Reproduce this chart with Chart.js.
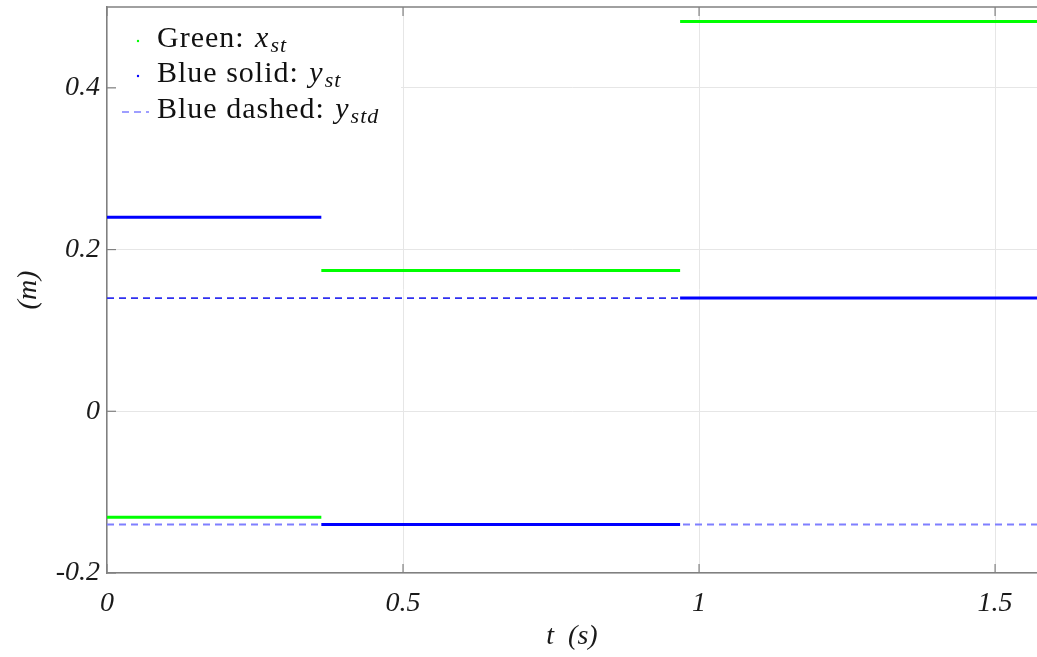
<!DOCTYPE html>
<html>
<head>
<meta charset="utf-8">
<script src="https://cdn.jsdelivr.net/npm/chart.js@4/dist/chart.umd.min.js"></script>
<style>
html,body{margin:0;padding:0;background:#fff;}
#wrap{width:1037px;height:657px;position:relative;}
</style>
</head>
<body>
<div id="wrap"><canvas id="c" width="1037" height="657"></canvas></div>
<script>
// ---- data ----
const segStart = [0, 0.362, 0.968];
const segEnd   = [0.362, 0.968, 1.5708];
const greenXst = [-0.131, 0.174, 0.482];
const blueYst  = [0.24, -0.14, 0.14];
const blueYstdUpper = 0.14;
const blueYstdLower = -0.14;
const xTicks = [0, 0.5, 1, 1.5];
const xTickLabels = ['0', '0.5', '1', '1.5'];
const yTicks = [-0.2, 0, 0.2, 0.4];
const yTickLabels = ['-0.2', '0', '0.2', '0.4'];
const xMin = 0, xMax = 1.5708, yMin = -0.2, yMax = 0.5;

function steps(vals) {
  const pts = [];
  vals.forEach((v, i) => {
    pts.push({x: segStart[i], y: v});
    pts.push({x: segEnd[i], y: v});
    if (i < vals.length - 1) pts.push({x: segEnd[i], y: null});
  });
  return pts;
}

const FONT = "'Liberation Serif', 'DejaVu Serif', serif";
const AXC = '#808080';

const framePlugin = {
  id: 'frame',
  afterDraw(chart) {
    const {ctx, chartArea: a, scales} = chart;
    ctx.save();
    // top border
    ctx.strokeStyle = AXC; ctx.lineWidth = 1.5;
    ctx.beginPath(); ctx.moveTo(a.left, a.top); ctx.lineTo(a.right, a.top); ctx.stroke();
    // inward ticks
    ctx.lineWidth = 1.2;
    xTicks.forEach(v => {
      const px = scales.x.getPixelForValue(v);
      ctx.beginPath(); ctx.moveTo(px, a.bottom); ctx.lineTo(px, a.bottom - 9); ctx.stroke();
      ctx.beginPath(); ctx.moveTo(px, a.top); ctx.lineTo(px, a.top + 9); ctx.stroke();
    });
    yTicks.forEach(v => {
      const py = scales.y.getPixelForValue(v);
      ctx.beginPath(); ctx.moveTo(a.left, py); ctx.lineTo(a.left + 9, py); ctx.stroke();
    });
    // legend
    ctx.fillStyle = '#fff';
    ctx.fillRect(a.left + 9, a.top + 2, 285, 128);
    const tx = a.left + 50;
    const rows = [
      {y: a.top + 32, main: 'Green: ', v: 'x', sub: 'st', kind: 'dotG'},
      {y: a.top + 67, main: 'Blue solid: ', v: 'y', sub: 'st', kind: 'dotB'},
      {y: a.top + 103, main: 'Blue dashed: ', v: 'y', sub: 'std', kind: 'dash'}
    ];
    ctx.textBaseline = 'middle';
    rows.forEach(r => {
      if (r.kind === 'dotG' || r.kind === 'dotB') {
        ctx.fillStyle = r.kind === 'dotG' ? '#00ff00' : '#0000ff';
        ctx.beginPath(); ctx.arc(a.left + 31, r.y + 2, 1.2, 0, Math.PI * 2); ctx.fill();
      } else {
        ctx.strokeStyle = '#7f7fff'; ctx.lineWidth = 1.6; ctx.setLineDash([7, 5]);
        ctx.beginPath(); ctx.moveTo(a.left + 15, r.y + 2); ctx.lineTo(a.left + 42, r.y + 2); ctx.stroke();
        ctx.setLineDash([]);
      }
      ctx.fillStyle = '#111';
      ctx.letterSpacing = '1px';
      ctx.font = '30px ' + FONT;
      ctx.fillText(r.main, tx, r.y);
      let x = tx + ctx.measureText(r.main).width + 2;
      ctx.font = 'italic 30px ' + FONT;
      ctx.fillText(r.v, x, r.y);
      x += ctx.measureText(r.v).width + 1;
      ctx.font = 'italic 22px ' + FONT;
      ctx.fillText(r.sub, x, r.y + 7);
    });
    ctx.restore();
  }
};

new Chart(document.getElementById('c'), {
  type: 'line',
  data: {
    datasets: [
      {label: 'green', data: steps(greenXst), borderColor: '#00ff00', borderWidth: 3, order: 1},
      {label: 'blue', data: steps(blueYst), borderColor: '#0000ff', borderWidth: 3, order: 2},
      {label: 'dashUp', data: [{x: xMin, y: blueYstdUpper}, {x: xMax, y: blueYstdUpper}], borderColor: '#3030f0', borderWidth: 1.8, borderDash: [7, 5], order: 3},
      {label: 'dashLo', data: [{x: xMin, y: blueYstdLower}, {x: xMax, y: blueYstdLower}], borderColor: '#7f7fff', borderWidth: 1.8, borderDash: [7, 5], order: 4}
    ]
  },
  options: {
    responsive: false,
    animation: false,
    spanGaps: false,
    elements: {point: {radius: 0}, line: {tension: 0, borderCapStyle: 'butt'}},
    layout: {padding: {top: 7, right: 0, left: 0, bottom: 0}},
    plugins: {legend: {display: false}, tooltip: {enabled: false}},
    scales: {
      x: {
        type: 'linear', min: xMin, max: xMax,
        afterBuildTicks: s => { s.ticks = xTicks.map(v => ({value: v})); },
        afterFit: s => { s.height = 84; s.paddingLeft = 0; s.paddingRight = 0; },
        grid: {color: '#e6e6e6', lineWidth: 1, drawTicks: false},
        border: {color: AXC, width: 1.5},
        ticks: {
          padding: 14, color: '#1a1a1a', maxRotation: 0, autoSkip: false,
          font: {family: FONT, size: 28, style: 'italic'},
          callback: (v) => xTickLabels[xTicks.indexOf(v)]
        },
        title: {display: true, text: 't  (s)', color: '#1a1a1a', font: {family: FONT, size: 28, style: 'italic'}, padding: {top: 0, bottom: 4}}
      },
      y: {
        type: 'linear', min: yMin, max: yMax,
        afterBuildTicks: s => { s.ticks = yTicks.map(v => ({value: v})); },
        afterFit: s => { s.width = 107; s.paddingTop = 0; s.paddingBottom = 0; },
        grid: {color: '#e6e6e6', lineWidth: 1, drawTicks: false},
        border: {color: AXC, width: 1.5},
        ticks: {
          padding: 7, color: '#1a1a1a', autoSkip: false,
          font: {family: FONT, size: 28, style: 'italic'},
          callback: (v) => yTickLabels[yTicks.findIndex(t => Math.abs(t - v) < 1e-9)]
        },
        title: {display: true, text: '(m)', color: '#1a1a1a', font: {family: FONT, size: 28, style: 'italic'}, padding: {top: 12, bottom: 0}}
      }
    }
  },
  plugins: [framePlugin]
});
</script>
</body>
</html>
